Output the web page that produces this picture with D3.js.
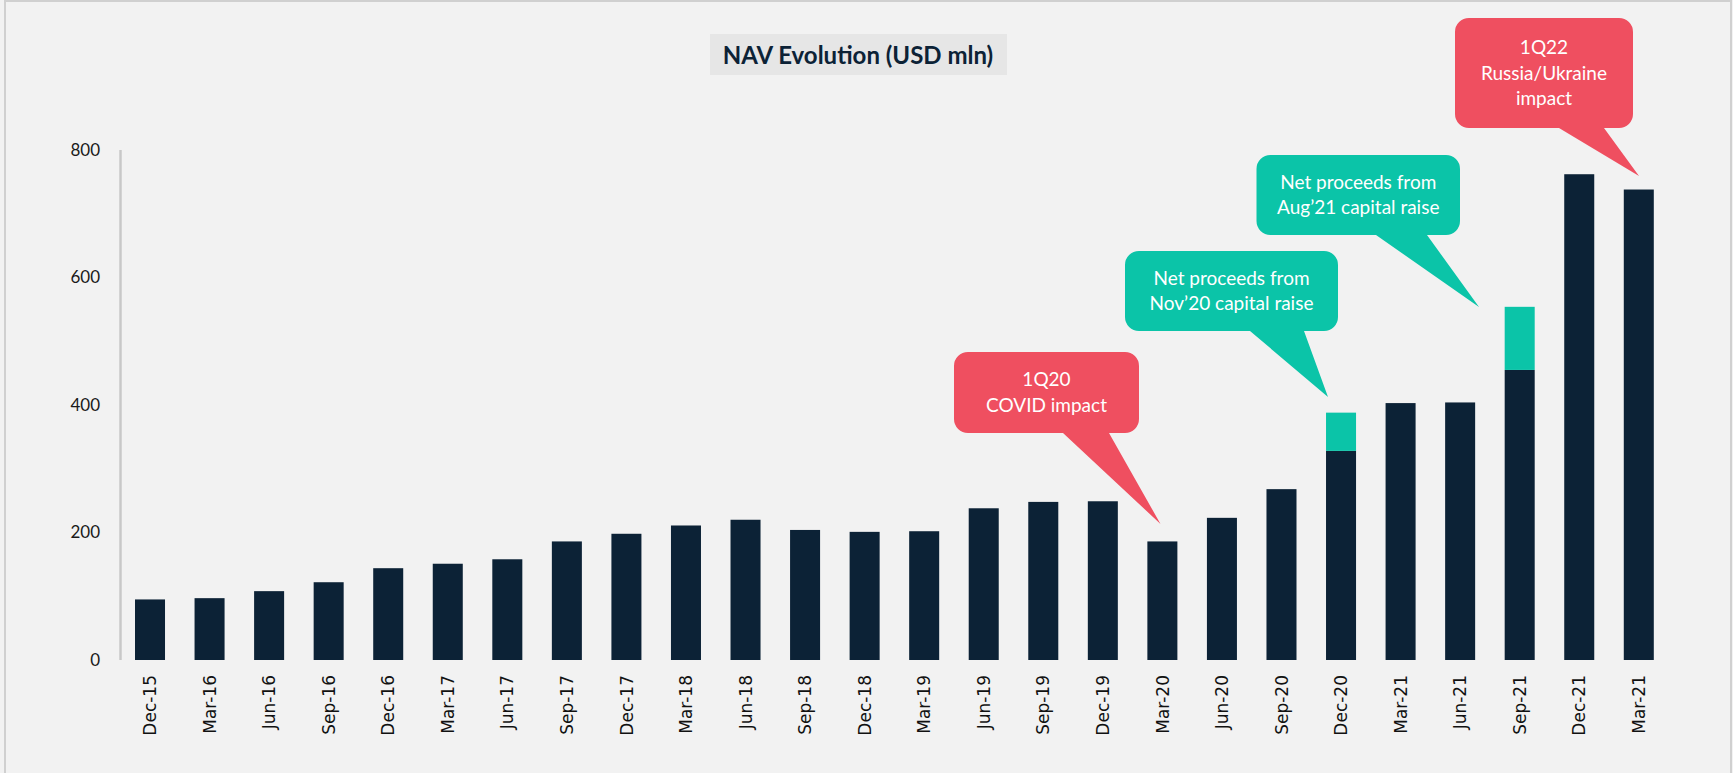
<!DOCTYPE html>
<html>
<head>
<meta charset="utf-8">
<script src="https://cdn.jsdelivr.net/npm/d3@7"></script>
<style>
  html, body { margin: 0; padding: 0; background: #f2f2f2; }
  svg { display: block; }
</style>
</head>
<body>
<div id="chart"></div>
<script>
(function() {
    // quarter labels (as printed on the chart, last one reads Mar-21 too)
    const quarters = ["Dec-15", "Mar-16", "Jun-16", "Sep-16", "Dec-16", "Mar-17", "Jun-17", "Sep-17",
        "Dec-17", "Mar-18", "Jun-18", "Sep-18", "Dec-18", "Mar-19", "Jun-19", "Sep-19", "Dec-19",
        "Mar-20", "Jun-20", "Sep-20", "Dec-20", "Mar-21", "Jun-21", "Sep-21", "Dec-21", "Mar-21"];
    // NAV, USD mln
    const navValues = [95, 97, 108, 122, 144, 151, 158, 186, 198, 211, 220, 204, 201, 202, 238, 248, 249,
        186, 223, 268, 328, 403, 404, 455, 762, 738];
    // net proceeds from capital raises, stacked on top
    const raiseValues = [0, 0, 0, 0, 0, 0, 0, 0, 0, 0, 0, 0, 0, 0, 0, 0, 0,
        0, 0, 0, 60, 0, 0, 99, 0, 0];
    const yTicks = [0, 200, 400, 600, 800];

    const width = 1733, height = 773;
    const navy = "#0c2236", teal = "#0bc4a8", red = "#ef4f60";

    const svg = d3.select("#chart").append("svg")
        .attr("width", width)
        .attr("height", height);

    // frame
    svg.append("rect")
        .attr("x", 5).attr("y", 1)
        .attr("width", 1726).attr("height", 820)
        .attr("fill", "#f2f2f2")
        .attr("stroke", "#d0d0d0").attr("stroke-width", 2);

    // title
    svg.append("rect")
        .attr("x", 710).attr("y", 34).attr("width", 297).attr("height", 41)
        .attr("fill", "#e6e6e6");
    svg.append("text")
        .attr("x", 858).attr("y", 64)
        .attr("text-anchor", "middle")
        .style("font-family", "Lato, sans-serif")
        .style("font-weight", "bold")
        .style("font-size", "24px")
        .attr("fill", navy)
        .text("NAV Evolution (USD mln)");

    const x = d3.scaleBand()
        .domain(d3.range(quarters.length))
        .range([120.5, 1668.3])
        .paddingInner(0.496)
        .paddingOuter(0.2435);

    const y = d3.scaleLinear().domain([0, 800]).range([660, 150]);

    // y axis line + labels
    svg.append("line")
        .attr("x1", 120.5).attr("x2", 120.5)
        .attr("y1", y(800)).attr("y2", y(0))
        .attr("stroke", "#c8c8c8").attr("stroke-width", 2.5);

    svg.append("g").selectAll("text")
        .data(yTicks).join("text")
        .attr("x", 100)
        .attr("y", d => y(d))
        .attr("dy", "0.35em")
        .attr("text-anchor", "end")
        .style("font-family", "Lato, sans-serif")
        .style("font-size", "17px")
        .attr("fill", "#1a1a1a")
        .text(d => d);

    const bars = svg.append("g");
    bars.selectAll("rect.nav")
        .data(navValues).join("rect")
        .attr("class", "nav")
        .attr("x", (d, i) => x(i))
        .attr("width", x.bandwidth())
        .attr("y", d => y(d))
        .attr("height", d => y(0) - y(d))
        .attr("fill", navy);

    bars.selectAll("rect.raise")
        .data(raiseValues.map((v, i) => ({ v, i })).filter(d => d.v > 0)).join("rect")
        .attr("class", "raise")
        .attr("x", d => x(d.i))
        .attr("width", x.bandwidth())
        .attr("y", d => y(navValues[d.i] + d.v))
        .attr("height", d => y(navValues[d.i]) - y(navValues[d.i] + d.v))
        .attr("fill", teal);

    // x labels, rotated
    svg.append("g").selectAll("text")
        .data(quarters).join("text")
        .attr("transform", (d, i) => `translate(${x(i) + x.bandwidth() / 2},675) rotate(-90)`)
        .attr("dy", "0.36em")
        .attr("text-anchor", "end")
        .style("font-family", "'DejaVu Sans', sans-serif")
        .style("font-size", "17px")
        .attr("fill", "#111")
        .text(d => d);

    // callouts
    const callouts = [
        { lines: ["1Q20", "COVID impact"], color: red,
          box: [954, 352, 1139, 433], base: [1063, 1109], tip: [1160.5, 524] },
        { lines: ["Net proceeds from", "Nov\u201920 capital raise"], color: teal,
          box: [1125, 251, 1338, 331], base: [1250, 1304], tip: [1328, 397] },
        { lines: ["Net proceeds from", "Aug\u201921 capital raise"], color: teal,
          box: [1256.5, 155, 1460, 235], base: [1376, 1427], tip: [1479, 307] },
        { lines: ["1Q22", "Russia/Ukraine", "impact"], color: red,
          box: [1455, 18, 1633, 128], base: [1559, 1604], tip: [1639, 176] }
    ];

    function calloutPath(c) {
        const [x0, y0, x1, y1] = c.box, r = 14;
        const p = d3.path();
        p.moveTo(x0 + r, y0);
        p.lineTo(x1 - r, y0);
        p.arcTo(x1, y0, x1, y0 + r, r);
        p.lineTo(x1, y1 - r);
        p.arcTo(x1, y1, x1 - r, y1, r);
        p.lineTo(c.base[1], y1);
        p.lineTo(c.tip[0], c.tip[1]);
        p.lineTo(c.base[0], y1);
        p.lineTo(x0 + r, y1);
        p.arcTo(x0, y1, x0, y1 - r, r);
        p.lineTo(x0, y0 + r);
        p.arcTo(x0, y0, x0 + r, y0, r);
        p.closePath();
        return p.toString();
    }

    const cg = svg.append("g").selectAll("g")
        .data(callouts).join("g");
    cg.append("path")
        .attr("d", calloutPath)
        .attr("fill", d => d.color);
    cg.each(function(c) {
        const g = d3.select(this);
        const cx = (c.box[0] + c.box[2]) / 2;
        const cy = (c.box[1] + c.box[3]) / 2;
        const lh = 25.5;
        c.lines.forEach((t, k) => {
            g.append("text")
                .attr("x", cx)
                .attr("y", cy + (k - (c.lines.length - 1) / 2) * lh)
                .attr("dy", "0.35em")
                .attr("text-anchor", "middle")
                .style("font-family", "Lato, sans-serif")
                .style("font-size", "19px")
                .attr("fill", "#fff")
                .text(t);
        });
    });
})();
</script>
</body>
</html>
